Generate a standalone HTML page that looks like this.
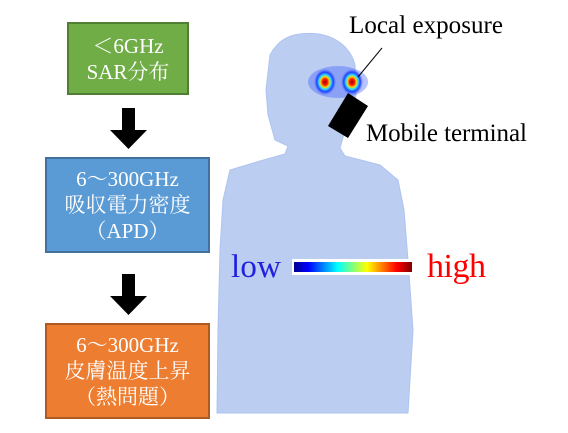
<!DOCTYPE html>
<html><head><meta charset="utf-8"><style>
body{margin:0;width:568px;height:433px;background:#fff;overflow:hidden;position:relative;font-family:"Liberation Serif","Noto Serif CJK SC",serif}
.box{position:absolute;box-sizing:border-box;color:#fff;text-align:center;font-size:21px;line-height:26px;display:flex;flex-direction:column;justify-content:center}
.arrow{position:absolute}
</style></head><body>
<div class="box" style="left:67px;top:22px;width:122px;height:73px;background:#70ad47;border:2px solid #507e32">＜6GHz<br>SAR分布</div>
<svg class="arrow" style="left:110px;top:108px" width="37" height="41"><polygon points="12,0 25,0 25,22 37,22 18.5,41 0,22 12,22" fill="#000"/></svg>
<div class="box" style="left:45px;top:157px;width:165px;height:96px;background:#5b9bd5;border:2px solid #41719c">6～300GHz<br>吸収電力密度<br>（APD）</div>
<svg class="arrow" style="left:110px;top:274px" width="37" height="41"><polygon points="12,0 25,0 25,22 37,22 18.5,41 0,22 12,22" fill="#000"/></svg>
<div class="box" style="left:45px;top:323px;width:165px;height:96px;background:#ed7d31;border:2px solid #ae5a21">6～300GHz<br>皮膚温度上昇<br>（熱問題）</div>
<svg style="position:absolute;left:0;top:0" width="568" height="433">
<defs>
<radialGradient id="hs"><stop offset="0" stop-color="#a00000"/><stop offset="0.25" stop-color="#ff2000"/><stop offset="0.4" stop-color="#ffd000"/><stop offset="0.55" stop-color="#30e0ff"/><stop offset="0.75" stop-color="#2040ff"/><stop offset="1" stop-color="#4060ff" stop-opacity="0"/></radialGradient>
<linearGradient id="cb"><stop offset="0" stop-color="#00008f"/><stop offset="0.12" stop-color="#0000ff"/><stop offset="0.37" stop-color="#00ffff"/><stop offset="0.62" stop-color="#ffff00"/><stop offset="0.87" stop-color="#ff0000"/><stop offset="1" stop-color="#800000"/></linearGradient>
</defs>
<path fill="#bccdf2" stroke="#aec3f0" d="M300,34 C330,30 350,45 355,65 L356,95 L348,120 L340,148 L345,156 L380,165 L398,180 L404,210 L408,260 L413,330 L408,413 L217,413 L218,330 L220,250 L223,200 L230,170 L260,161 L285,154 L288,146 L275,140 L268,115 L266,90 L270,55 C278,40 290,35 300,34 Z"/>
<ellipse cx="338" cy="82" rx="30" ry="16" fill="#3050ff" opacity="0.35"/>
<ellipse cx="325" cy="82" rx="11" ry="13" fill="url(#hs)"/>
<ellipse cx="352" cy="82" rx="11" ry="13" fill="url(#hs)"/>
<polygon points="348,93 368,106 348,138 328,126" fill="#000"/>
<line x1="382" y1="48" x2="358" y2="77" stroke="#000" stroke-width="1"/>
<text x="349" y="33" font-size="25" font-family="Liberation Serif" textLength="154">Local exposure</text>
<text x="366" y="141" font-size="25" font-family="Liberation Serif" textLength="161">Mobile terminal</text>
<text x="231" y="277" font-size="33" fill="#2020e0" font-family="Liberation Serif" textLength="50">low</text>
<rect x="292" y="259" width="122" height="16" fill="#fff"/>
<rect x="294" y="262" width="118" height="10" fill="url(#cb)"/>
<text x="427" y="277" font-size="34" fill="#ff0000" font-family="Liberation Serif" textLength="59">high</text>
</svg>
</body></html>
